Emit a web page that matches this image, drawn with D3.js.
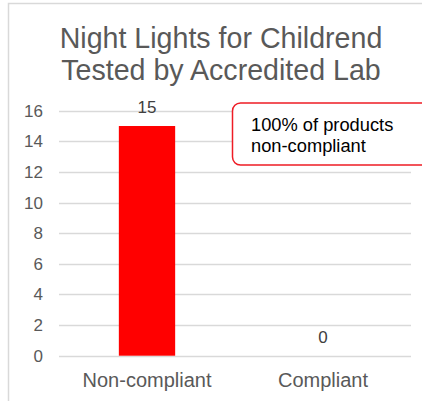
<!DOCTYPE html>
<html>
<head>
<meta charset="utf-8">
<script src="https://cdn.jsdelivr.net/npm/d3@7"></script>
<style>
  body { margin: 0; background: #fff; }
  text { font-family: "Liberation Sans", Arial, sans-serif; }
</style>
</head>
<body>
<div id="chart"></div>
<script>
// chart data
var categories = ["Non-compliant", "Compliant"];
var values = [15, 0];
var yTicks = [0, 2, 4, 6, 8, 10, 12, 14, 16];
var titleLines = ["Night Lights for Childrend", "Tested by Accredited Lab"];
var noteLines = ["100% of products", "non-compliant"];

var width = 422,
    height = 401;

var svg = d3.select("#chart").append("svg")
    .attr("width", width)
    .attr("height", height);

// chart frame (runs off the right / bottom edge)
svg.append("rect")
    .attr("x", 8.5)
    .attr("y", 3.5)
    .attr("width", 440)
    .attr("height", 420)
    .attr("fill", "#fff")
    .attr("stroke", "#d9d9d9")
    .attr("stroke-width", 1.5);

var x = d3.scaleBand()
    .domain(categories)
    .range([59, 411])
    .paddingInner(0.68)
    .paddingOuter(0.34);

var y = d3.scaleLinear()
    .domain([0, 16])
    .range([355.7, 110.7]);

// title
svg.append("g").selectAll("text")
    .data(titleLines)
    .enter()
    .append("text")
    .attr("x", 221)
    .attr("y", function (d, i) { return 48 + i * 32; })
    .attr("text-anchor", "middle")
    .attr("font-size", "28.6px")
    .attr("fill", "#595959")
    .text(function (d) { return d; });

// gridlines
svg.append("g").selectAll("line")
    .data(yTicks)
    .enter()
    .append("line")
    .attr("x1", 59)
    .attr("x2", 411)
    .attr("y1", function (d) { return Math.round(y(d)) + 0.5; })
    .attr("y2", function (d) { return Math.round(y(d)) + 0.5; })
    .attr("stroke", "#d9d9d9")
    .attr("stroke-width", 1.5);

// y axis labels
var yAxis = svg.append("g")
    .attr("transform", "translate(47,0)")
    .call(d3.axisLeft(y).tickValues(yTicks).tickSize(0).tickPadding(4));
yAxis.select(".domain").remove();
yAxis.selectAll("text")
    .attr("font-size", "17px")
    .attr("font-family", "Liberation Sans, Arial, sans-serif")
    .attr("fill", "#595959");

// x axis labels
var xAxis = svg.append("g")
    .attr("transform", "translate(0," + y(0) + ")")
    .call(d3.axisBottom(x).tickSize(0).tickPadding(17));
xAxis.select(".domain").remove();
xAxis.selectAll("text")
    .attr("font-size", "20px")
    .attr("font-family", "Liberation Sans, Arial, sans-serif")
    .attr("fill", "#595959");

// bars
svg.append("g").selectAll("rect")
    .data(values)
    .enter()
    .append("rect")
    .attr("x", function (d, i) { return x(categories[i]); })
    .attr("y", function (d) { return y(d); })
    .attr("width", x.bandwidth())
    .attr("height", function (d) { return y(0) - y(d); })
    .attr("fill", "#ff0000");

// data labels
svg.append("g").selectAll("text")
    .data(values)
    .enter()
    .append("text")
    .attr("x", function (d, i) { return x(categories[i]) + x.bandwidth() / 2; })
    .attr("y", function (d) { return y(d) - 13; })
    .attr("text-anchor", "middle")
    .attr("font-size", "17px")
    .attr("fill", "#404040")
    .text(function (d) { return d; });

// callout box
svg.append("rect")
    .attr("x", 232.5)
    .attr("y", 103)
    .attr("width", 230)
    .attr("height", 62)
    .attr("rx", 8)
    .attr("fill", "#fff")
    .attr("stroke", "#ee1c25")
    .attr("stroke-width", 1.5);

svg.append("g").selectAll("text")
    .data(noteLines)
    .enter()
    .append("text")
    .attr("x", 251)
    .attr("y", function (d, i) { return 131 + i * 20.5; })
    .attr("font-size", "18.3px")
    .attr("fill", "#000")
    .text(function (d) { return d; });
</script>
</body>
</html>
